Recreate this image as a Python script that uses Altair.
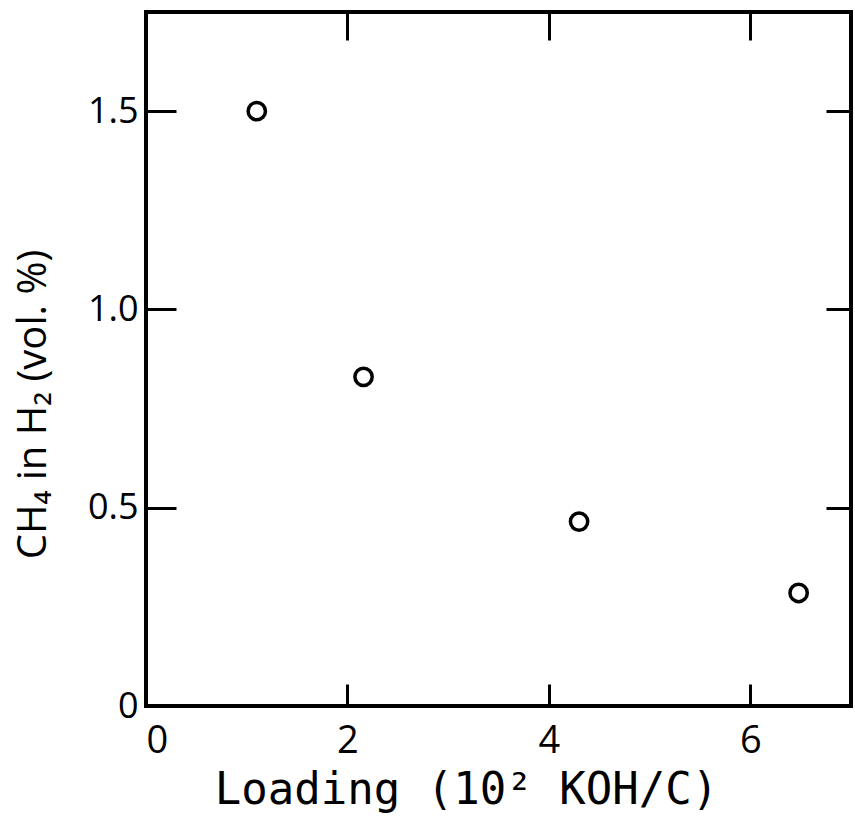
import altair as alt
import pandas as pd

loading = [1.1, 2.16, 4.3, 6.48]
ch4 = [1.5, 0.83, 0.465, 0.285]

x_ticks = [0, 2, 4, 6]
y_ticks = [0, 0.5, 1.0, 1.5]

df = pd.DataFrame({"loading": loading, "ch4": ch4})

FONT = "Open Sans"
xscale = alt.Scale(domain=[0, 7], nice=False, zero=False)
yscale = alt.Scale(domain=[0, 1.75], nice=False, zero=False)

base = alt.Chart(df)

main = base.mark_point(shape="circle", filled=False, size=300, strokeWidth=3.5,
                       color="black", opacity=1).encode(
    x=alt.X("loading:Q", scale=xscale,
            axis=alt.Axis(values=x_ticks, orient="bottom", offset=-22, tickSize=22, tickWidth=3,
                          tickColor="black", domain=False, grid=False, labelPadding=16,
                          labelFontSize=38, labelFont=FONT, labelFontWeight=400, labelColor="black",
                          title="Loading (10² KOH/C)", titleFontSize=44, titleFont="DejaVu Sans Mono",
                          titleFontWeight=400, titleColor="black", titlePadding=8, titleX=320)),
    y=alt.Y("ch4:Q", scale=yscale,
            axis=alt.Axis(values=y_ticks, orient="left", offset=-30, tickSize=30, tickWidth=3,
                          tickColor="black", domain=False, grid=False, labelPadding=8,
                          labelExpr="datum.value == 0 ? '0' : format(datum.value, '.1f')",
                          labelFontSize=36, labelFont=FONT, labelFontWeight=400, labelColor="black",
                          title="CH₄ in H₂  (vol. %)", titleFontSize=40, titleFont=FONT,
                          titleFontWeight=400, titleColor="black", titlePadding=34, titleY=392)),
)

sec = base.mark_point(opacity=0).encode(
    x=alt.X("loading:Q", scale=xscale,
            axis=alt.Axis(values=[2, 4, 6], orient="top", offset=-28, tickSize=28, tickWidth=3,
                          tickColor="black", domain=False, grid=False, labels=False, title=None)),
    y=alt.Y("ch4:Q", scale=yscale,
            axis=alt.Axis(values=[0.5, 1.0, 1.5], orient="right", offset=-25, tickSize=25, tickWidth=3,
                          tickColor="black", domain=False, grid=False, labels=False, title=None)),
)

chart = alt.layer(main, sec).resolve_axis(x="independent", y="independent").properties(
    width=705, height=694,
    autosize=alt.AutoSizeParams(type="none"),
    padding={"left": 146, "top": 12, "right": 4, "bottom": 111},
    background="white",
).configure_view(stroke="black", strokeWidth=4)

chart.save("out.html", embed_options={"renderer": "svg", "actions": False})
